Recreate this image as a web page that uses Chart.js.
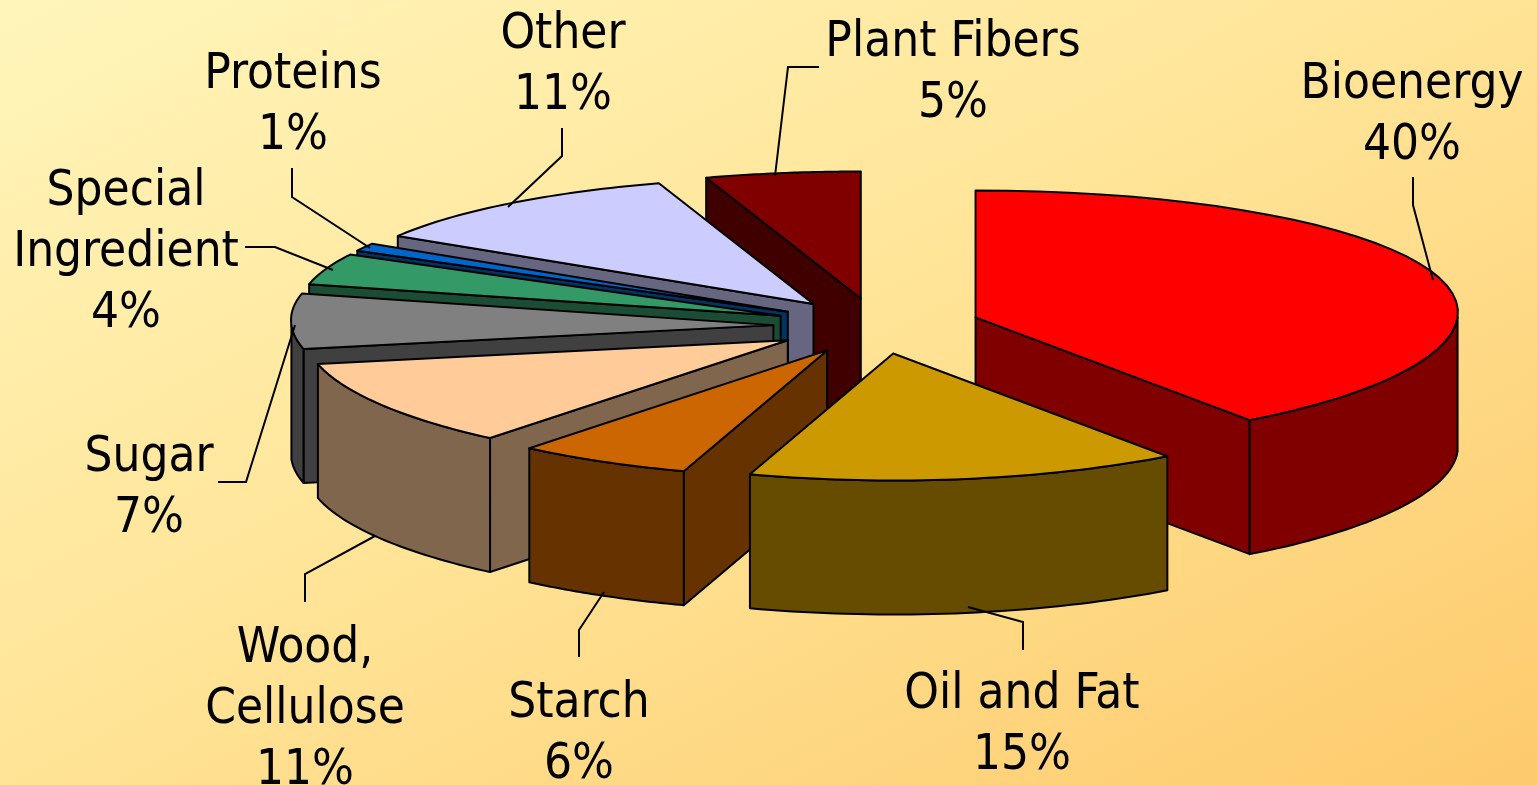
<!DOCTYPE html>
<html>
<head>
<meta charset="utf-8">
<title>Biomass use</title>
<script src="https://cdn.jsdelivr.net/npm/chart.js@4"></script>
<style>
    html, body { margin: 0; padding: 0; overflow: hidden; }
    body { width: 1537px; height: 785px; background: linear-gradient(to bottom right, #fff5ba 0%, #ffe497 48%, #fdca6c 100%); }
    canvas { display: block; }
</style>
</head>
<body>
<canvas id="pieChart" width="1537" height="785"></canvas>
<script>
// Dados do gráfico
const categories = ['Bioenergy', 'Oil and Fat', 'Starch', 'Wood, Cellulose', 'Sugar', 'Special Ingredient', 'Proteins', 'Other', 'Plant Fibers'];
const shares = [40, 15, 6, 11, 7, 4, 1, 11, 5];
const topColors = ['#ff0000', '#cc9900', '#cc6600', '#ffcc99', '#808080', '#339966', '#0066cc', '#ccccff', '#800000'];
const wallColors = ['#800000', '#664c00', '#663300', '#80664d', '#404040', '#1a4d33', '#003366', '#666680', '#400000'];

// Label layout: wrapped lines, centre x, first baseline, leader polyline
const labelLines = [['Bioenergy'], ['Oil and Fat'], ['Starch'], ['Wood,', 'Cellulose'], ['Sugar'], ['Special', 'Ingredient'], ['Proteins'], ['Other'], ['Plant Fibers']];
const labelX = [1412, 1022, 579, 305, 149, 126, 293, 563, 953];
const labelY = [98, 708, 717, 662, 471, 205, 88, 48, 56];
const leaders = [
    [[1413, 177], [1413, 205], [1433, 280]],
    [[1023, 650], [1023, 622], [968, 607]],
    [[579, 657], [579, 630], [604, 592]],
    [[305, 602], [305, 574], [375, 536]],
    [[218, 482], [246, 482], [295, 325]],
    [[245, 247], [275, 247], [333, 270]],
    [[292, 168], [292, 197], [370, 248]],
    [[562, 128], [562, 156], [508, 207]],
    [[819, 67], [788, 67], [775, 176]]
];

// 3D look of the pie
const view = { x: 877, y: 326, rx: 482, ry: 127, depth: 134, explode: 0.215, pinch: 0.04 };

function project(arc, angle, ratio, drop) {
    const mid = (arc.startAngle + arc.endAngle) / 2;
    const sin = Math.sin(angle);
    // far side of the pie reads a little wider than the near side
    const spread = ratio * (1 - view.pinch * sin);
    return {
        x: view.x + (Math.cos(mid) * view.explode + Math.cos(angle) * spread) * view.rx,
        y: view.y + (Math.sin(mid) * view.explode * 1.02 + sin * ratio) * view.ry + drop
    };
}

function radialWall(ctx, arc, angle) {
    const a = project(arc, angle, 0, 0);
    const b = project(arc, angle, 1, 0);
    ctx.beginPath();
    ctx.moveTo(a.x, a.y);
    ctx.lineTo(b.x, b.y);
    ctx.lineTo(b.x, b.y + view.depth);
    ctx.lineTo(a.x, a.y + view.depth);
    ctx.closePath();
}

function outerWall(ctx, arc, from, to) {
    const steps = 40;
    ctx.beginPath();
    for (let i = 0; i <= steps; i++) {
        const p = project(arc, from + (to - from) * i / steps, 1, 0);
        ctx.lineTo(p.x, p.y);
    }
    for (let i = steps; i >= 0; i--) {
        const p = project(arc, from + (to - from) * i / steps, 1, view.depth);
        ctx.lineTo(p.x, p.y);
    }
    ctx.closePath();
}

function topFace(ctx, arc) {
    const steps = 40;
    const tip = project(arc, arc.startAngle, 0, 0);
    ctx.beginPath();
    ctx.moveTo(tip.x, tip.y);
    for (let i = 0; i <= steps; i++) {
        const p = project(arc, arc.startAngle + (arc.endAngle - arc.startAngle) * i / steps, 1, 0);
        ctx.lineTo(p.x, p.y);
    }
    ctx.closePath();
}

const tiltedPie = {
    id: 'tiltedPie',
    beforeDatasetsDraw(chart) {
        const ctx = chart.ctx;
        const arcs = chart.getDatasetMeta(0).data;
        // back slices first
        const order = arcs.map((arc, i) => i).sort((a, b) =>
            Math.sin((arcs[a].startAngle + arcs[a].endAngle) / 2) - Math.sin((arcs[b].startAngle + arcs[b].endAngle) / 2));

        ctx.save();
        ctx.strokeStyle = '#000';
        ctx.lineWidth = 2;
        ctx.lineJoin = 'round';

        order.forEach(i => {
            const arc = arcs[i];
            ctx.fillStyle = wallColors[i];
            if (Math.cos(arc.startAngle) < -0.001) {
                radialWall(ctx, arc, arc.startAngle);
                ctx.fill();
                ctx.stroke();
            }
            if (Math.cos(arc.endAngle) > 0.001) {
                radialWall(ctx, arc, arc.endAngle);
                ctx.fill();
                ctx.stroke();
            }
            const from = Math.max(arc.startAngle, 0);
            const to = Math.min(arc.endAngle, Math.PI);
            if (to > from) {
                outerWall(ctx, arc, from, to);
                ctx.fill();
                ctx.stroke();
            }
        });

        order.forEach(i => {
            const arc = arcs[i];
            ctx.fillStyle = arc.options.backgroundColor;
            topFace(ctx, arc);
            ctx.fill();
            ctx.stroke();
        });
        ctx.restore();
        return false;
    },
    afterDraw(chart) {
        const ctx = chart.ctx;
        ctx.save();
        ctx.strokeStyle = '#000';
        ctx.lineWidth = 2;
        leaders.forEach(line => {
            ctx.beginPath();
            line.forEach(p => ctx.lineTo(p[0], p[1]));
            ctx.stroke();
        });
        ctx.fillStyle = '#000';
        ctx.textAlign = 'center';
        ctx.textBaseline = 'alphabetic';
        ctx.font = '49px "DejaVu Sans Condensed", "DejaVu Sans"';
        labelLines.forEach((lines, i) => {
            const rows = lines.concat(shares[i] + '%');
            rows.forEach((row, r) => ctx.fillText(row, labelX[i], labelY[i] + r * 61));
        });
        ctx.restore();
    }
};

new Chart(document.getElementById('pieChart'), {
    type: 'pie',
    data: {
        labels: categories,
        datasets: [{
            data: shares,
            backgroundColor: topColors,
            borderWidth: 0
        }]
    },
    options: {
        responsive: false,
        animation: false,
        plugins: {
            legend: { display: false },
            tooltip: { enabled: false }
        }
    },
    plugins: [tiltedPie]
});
</script>
</body>
</html>
